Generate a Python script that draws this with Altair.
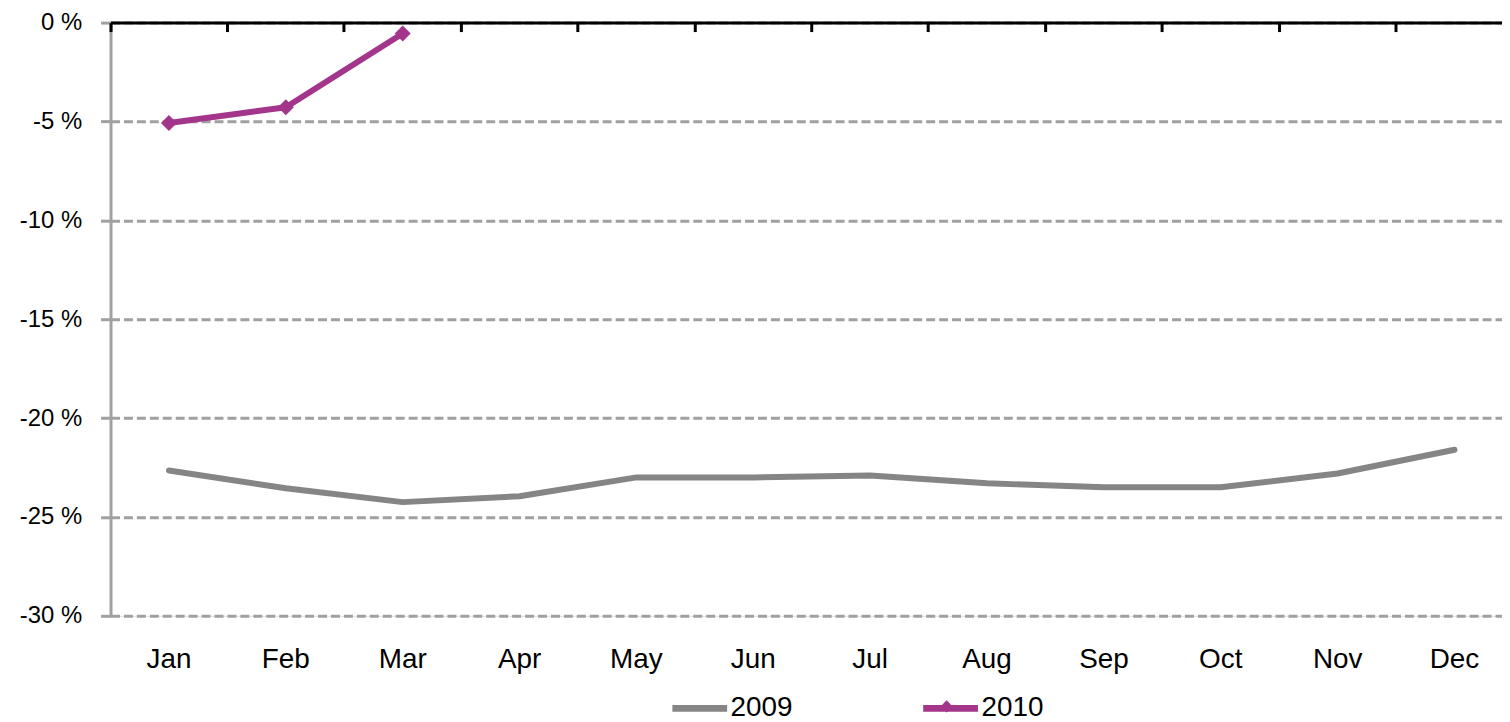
import altair as alt
import pandas as pd

months = ["Jan", "Feb", "Mar", "Apr", "May", "Jun", "Jul", "Aug", "Sep", "Oct", "Nov", "Dec"]
v2009 = [-22.65, -23.55, -24.25, -23.95, -23.0, -23.0, -22.9, -23.3, -23.5, -23.5, -22.8, -21.6]
v2010 = [-5.08, -4.28, -0.55]
series = ["2009", "2010"]
colors = ["#858585", "#A3358B"]
y_ticks = [0, -5, -10, -15, -20, -25, -30]

rows = []
for m, v in zip(months, v2009):
    rows.append({"month": m, "value": v, "series": "2009"})
for m, v in zip(months, v2010):
    rows.append({"month": m, "value": v, "series": "2010"})
df = pd.DataFrame(rows)
df2010 = df[df.series == "2010"]

W, H = 1398, 596
XR = 1409
FONT = "Liberation Sans"

xscale = alt.Scale(type="band", domain=months, paddingInner=0, paddingOuter=0, rangeMin=0, rangeMax=XR)
yscale = alt.Scale(domain=[-30, 0], nice=False, zero=False)

yaxis = alt.Axis(
    values=y_ticks, labelExpr="datum.value + ' %'", title=None,
    labelFontSize=24, labelFont=FONT, labelColor="black", labelPadding=19,
    domainColor="#A0A0A0", domainWidth=3, tickColor="#A0A0A0", tickWidth=3, tickSize=10,
    grid=True, gridColor="#A0A0A0", gridWidth=3, gridDash=[9, 4],
)

lines = alt.Chart(df).mark_line(strokeWidth=6, strokeCap="round", strokeJoin="round").encode(
    x=alt.X("month:N", sort=months, scale=xscale, bandPosition=0.5,
            axis=alt.Axis(orient="bottom", offset=-H, labels=False, title=None, grid=False,
                          domainColor="black", domainWidth=3, tickColor="black", tickWidth=3,
                          tickSize=9, bandPosition=0, zindex=2)),
    y=alt.Y("value:Q", scale=yscale, axis=yaxis),
    color=alt.Color("series:N", scale=alt.Scale(domain=series, range=colors),
                    legend=alt.Legend(orient="none", legendX=561, legendY=658, direction="horizontal",
                                      title=None, symbolType="stroke", symbolStrokeWidth=7,
                                      symbolSize=3025, labelFontSize=28, labelFont=FONT,
                                      labelColor="black", labelOffset=0, columnPadding=116,
                                      padding=0)),
    detail="series:N",
)

points = alt.Chart(df2010).mark_point(filled=True, size=260, opacity=1).encode(
    x=alt.X("month:N", sort=months, scale=xscale, bandPosition=0.5,
            axis=alt.Axis(orient="bottom", domain=False, ticks=False, grid=False, title=None,
                          labelFontSize=28, labelFont=FONT, labelColor="black", labelPadding=30,
                          labelAngle=0)),
    y=alt.Y("value:Q", scale=yscale),
    shape=alt.Shape("series:N", scale=alt.Scale(domain=["2010"], range=["diamond"]),
                    legend=alt.Legend(orient="none", legendX=833, legendY=680, title=None,
                                      labelExpr="''", symbolSize=150, symbolFillColor="#A3358B",
                                      symbolStrokeColor="#A3358B", symbolOpacity=1,
                                      labelFontSize=1, labelOffset=0, padding=0)),
    color=alt.value("#A3358B"),
)

chart = alt.layer(lines, points).resolve_scale(x="independent").resolve_axis(x="independent").properties(
    width=W, height=H,
    autosize=alt.AutoSizeParams(type="none"),
    padding={"left": 103, "top": 13, "right": 0, "bottom": 105},
).configure_view(stroke=None).configure(background="white")

chart.save("out.html", embed_options={"renderer": "svg", "actions": False})
